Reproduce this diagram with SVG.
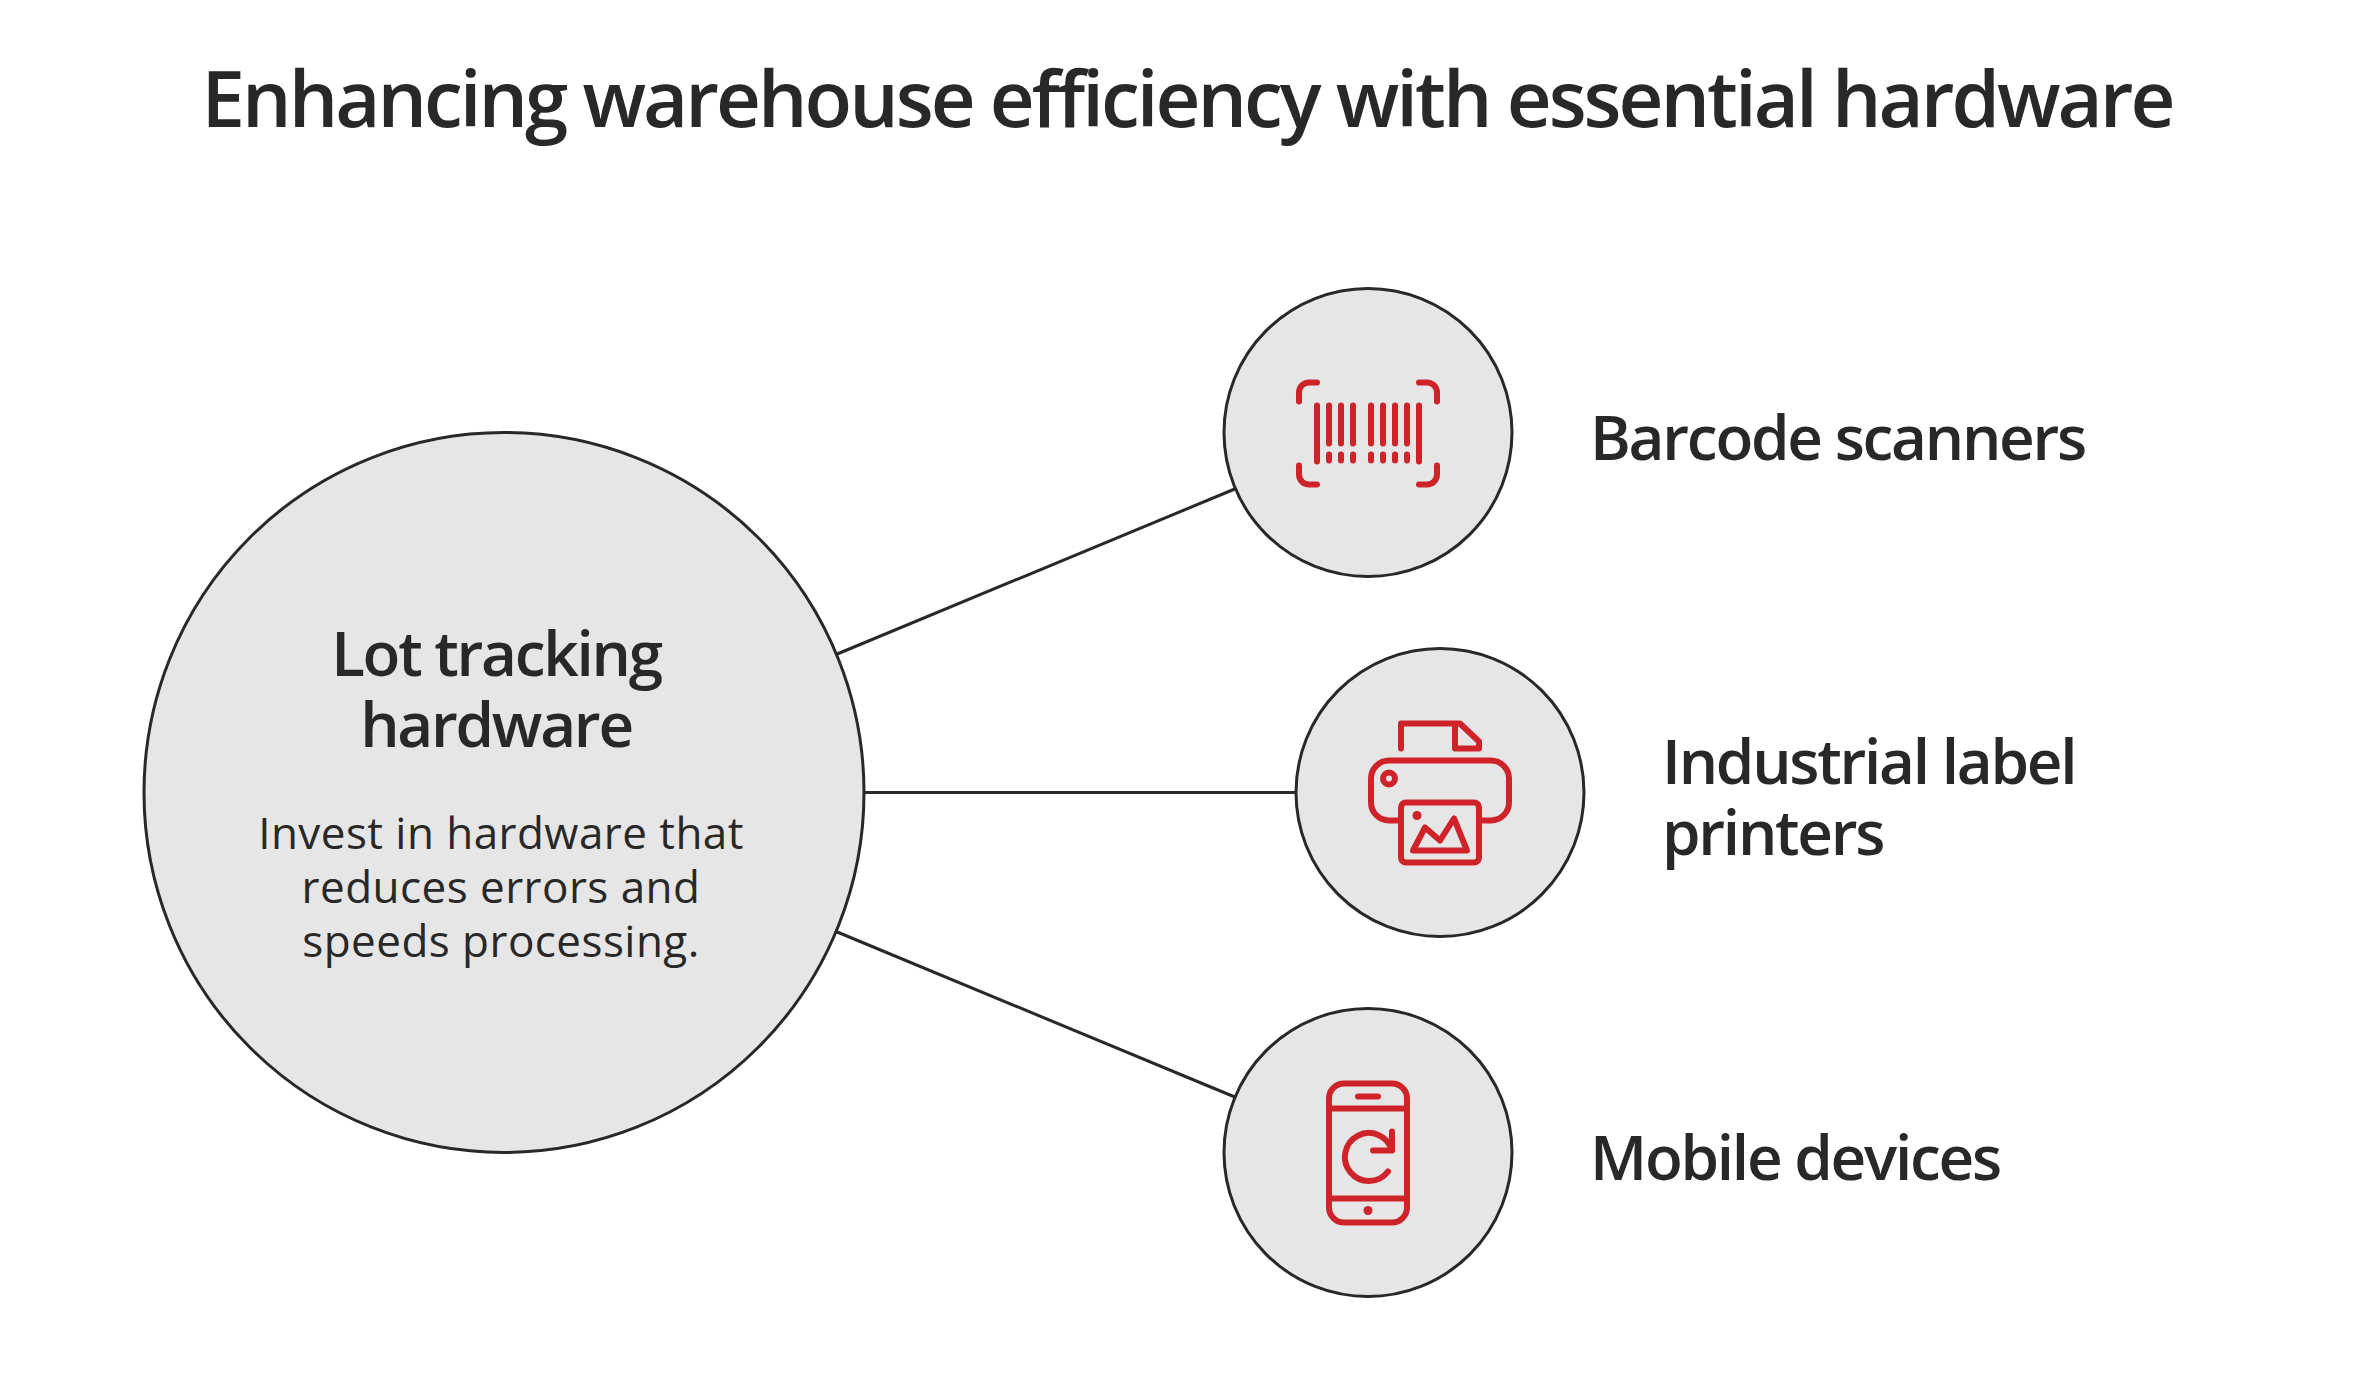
<svg xmlns="http://www.w3.org/2000/svg" width="2376" height="1383" viewBox="0 0 2376 1383">
<style>
text{font-family:"Open Sans","Noto Sans",sans-serif;fill:#282828}
.t{font-size:78px;font-weight:600;letter-spacing:-3px}
.h{font-size:62px;font-weight:600;letter-spacing:-2.25px}
.b{font-size:44px;font-weight:400;letter-spacing:.45px}
.n{fill:#e6e6e6;stroke:#282828;stroke-width:3}
.i{fill:none;stroke:#cf232a;stroke-width:6;stroke-linecap:round;stroke-linejoin:round}
.d{fill:#cf232a}
.c{stroke:#282828;stroke-width:3;fill:none}
</style>
<rect width="2376" height="1383" fill="#fff"/>
<text id="title" class="t" x="1187" y="127" text-anchor="middle">Enhancing warehouse efficiency with essential hardware</text>
<g id="connectors">
<path class="c" d="M836 654.5L1236 488.5"/>
<path class="c" d="M863 792.5H1296"/>
<path class="c" d="M836 931.5L1236 1097.5"/>
</g>
<g id="hub">
<circle class="n" cx="504" cy="792.5" r="360"/>
<text class="h" x="496" y="676" text-anchor="middle">Lot tracking</text>
<text class="h" x="496" y="747" text-anchor="middle">hardware</text>
<text class="b" x="501" y="849" text-anchor="middle">Invest in hardware that</text>
<text class="b" x="501" y="903" text-anchor="middle">reduces errors and</text>
<text class="b" x="501" y="957" text-anchor="middle">speeds processing.</text>
</g>
<g id="barcode">
<circle class="n" cx="1368" cy="432.5" r="144"/>
<g transform="translate(0 .5)">
<path class="i" d="M1299 401V392a10 10 0 0 1 10-10H1317M1419 382H1427a10 10 0 0 1 10 10V401M1299 465V474a10 10 0 0 0 10 10H1317M1419 484H1427a10 10 0 0 0 10-10V465"/>
<path class="i" d="M1317 405V461M1419 405V461M1329 405V443M1341 405V443M1353 405V443M1371 405V443M1383 405V443M1395 405V443M1407 405V443M1329 454V460M1341 454V460M1353 454V460M1371 454V460M1383 454V460M1395 454V460M1407 454V460"/>
</g>
<text class="h" x="1590" y="460">Barcode scanners</text>
</g>
<g id="printer">
<circle class="n" cx="1440" cy="792.5" r="144"/>
<g transform="translate(0 .5)">
<path class="i" d="M1401 748V723H1460L1479 741V748H1455V723"/>
<path class="i" d="M1401 820H1389a18 18 0 0 1-18-18V778a18 18 0 0 1 18-18H1491a18 18 0 0 1 18 18V802a18 18 0 0 1-18 18H1479"/>
<circle class="i" cx="1389" cy="778" r="6"/>
<rect class="i" x="1401" y="802" width="78" height="60" rx="5"/>
<circle class="d" cx="1417" cy="815" r="4.5"/>
<path class="i" d="M1413 850L1425 827L1440 840L1454 818L1467 850Z"/>
</g>
<text class="h" x="1662" y="784">Industrial label</text>
<text class="h" x="1662" y="855">printers</text>
</g>
<g id="mobile">
<circle class="n" cx="1368" cy="1152.5" r="144"/>
<g transform="translate(0 .5)">
<rect class="i" x="1329" y="1083" width="78" height="139" rx="15"/>
<path class="i" d="M1329 1108H1407M1329 1198H1407M1358 1096H1378"/>
<circle class="d" cx="1368" cy="1210" r="4.5"/>
<path class="i" d="M1392 1150A24 24 0 1 0 1388 1171M1392 1131V1150H1373"/>
</g>
<text class="h" x="1590" y="1180">Mobile devices</text>
</g>
</svg>
